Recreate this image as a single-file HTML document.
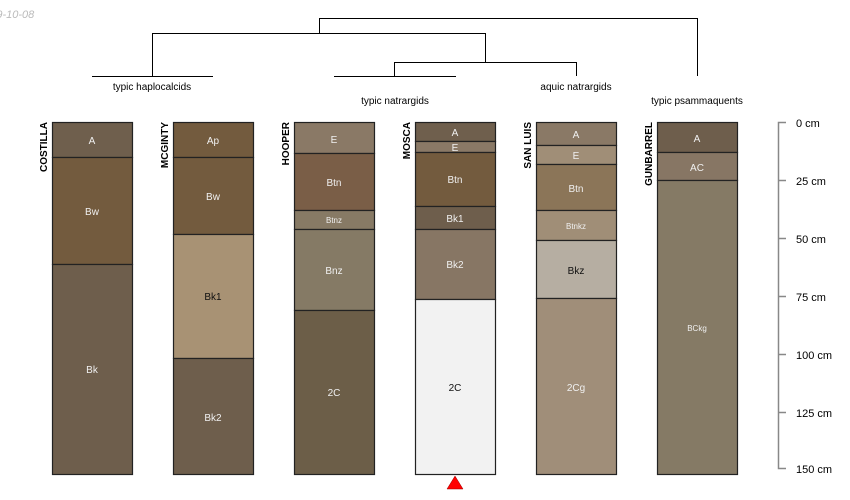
<!DOCTYPE html>
<html><head><meta charset="utf-8"><style>
html,body{margin:0;padding:0;background:#fff}
svg{display:block;font-family:"Liberation Sans",sans-serif}
</style></head><body>
<svg width="850" height="500" viewBox="0 0 850 500" xmlns="http://www.w3.org/2000/svg">
<text x="-22" y="18" font-size="11" font-style="italic" fill="#bbb">2019-10-08</text>
<g stroke="#000" stroke-width="1" fill="none">
<path d="M319.5 33V18.5H697.5V76"/>
<path d="M152.5 76V33.5H485.5V62"/>
<path d="M394.5 76V62.5H576.5V76"/>
<path d="M92 76.5H213M334 76.5H456"/>
</g>
<g font-size="10" text-anchor="middle" fill="#000">
<text x="152" y="90">typic haplocalcids</text>
<text x="395" y="104">typic natrargids</text>
<text x="576" y="90">aquic natrargids</text>
<text x="697" y="104">typic psammaquents</text>
</g>
<g font-size="10" font-weight="bold" text-anchor="end">
<text transform="translate(47,122) rotate(-90)">COSTILLA</text>
<text transform="translate(168,122) rotate(-90)">MCGINTY</text>
<text transform="translate(289,122) rotate(-90)">HOOPER</text>
<text transform="translate(410,122) rotate(-90)">MOSCA</text>
<text transform="translate(531,122) rotate(-90)">SAN LUIS</text>
<text transform="translate(652,122) rotate(-90)">GUNBARREL</text>
</g>
<g stroke="#222" stroke-width="1.2" font-size="10" text-anchor="middle">
<rect x="52.5" y="122.5" width="80" height="35" fill="#6f5f4d"/>
<rect x="52.5" y="157.5" width="80" height="107" fill="#735b3e"/>
<rect x="52.5" y="264.5" width="80" height="210" fill="#6e5e4c"/>
<rect x="173.5" y="122.5" width="80" height="35" fill="#735b3e"/>
<rect x="173.5" y="157.5" width="80" height="77" fill="#735b3e"/>
<rect x="173.5" y="234.5" width="80" height="124" fill="#a89274"/>
<rect x="173.5" y="358.5" width="80" height="116" fill="#6e5e4c"/>
<rect x="294.5" y="122.5" width="80" height="31" fill="#8a7966"/>
<rect x="294.5" y="153.5" width="80" height="57" fill="#7a5e47"/>
<rect x="294.5" y="210.5" width="80" height="19" fill="#877a65"/>
<rect x="294.5" y="229.5" width="80" height="81" fill="#857a65"/>
<rect x="294.5" y="310.5" width="80" height="164" fill="#6c5e48"/>
<rect x="415.5" y="122.5" width="80" height="19" fill="#6f5f4d"/>
<rect x="415.5" y="141.5" width="80" height="11" fill="#8a7966"/>
<rect x="415.5" y="152.5" width="80" height="54" fill="#735b3e"/>
<rect x="415.5" y="206.5" width="80" height="23" fill="#6e5e4c"/>
<rect x="415.5" y="229.5" width="80" height="70" fill="#877664"/>
<rect x="415.5" y="299.5" width="80" height="175" fill="#f2f2f2"/>
<rect x="536.5" y="122.5" width="80" height="23" fill="#8a7966"/>
<rect x="536.5" y="145.5" width="80" height="19" fill="#a08e77"/>
<rect x="536.5" y="164.5" width="80" height="46" fill="#8b7558"/>
<rect x="536.5" y="210.5" width="80" height="30" fill="#a08e77"/>
<rect x="536.5" y="240.5" width="80" height="58" fill="#b6aea2"/>
<rect x="536.5" y="298.5" width="80" height="176" fill="#a08e79"/>
<rect x="657.5" y="122.5" width="80" height="30" fill="#6e5e4c"/>
<rect x="657.5" y="152.5" width="80" height="28" fill="#877664"/>
<rect x="657.5" y="180.5" width="80" height="294" fill="#857a65"/>
</g>
<g font-size="10" text-anchor="middle" fill="#f0f0f0">
<text x="92" y="144">A</text><text x="92" y="215">Bw</text><text x="92" y="373">Bk</text>
<text x="213" y="144">Ap</text><text x="213" y="200">Bw</text><text x="213" y="300" fill="#111">Bk1</text><text x="213" y="421">Bk2</text>
<text x="334" y="143">E</text><text x="334" y="186">Btn</text><text x="334" y="223" font-size="8">Btnz</text><text x="334" y="274">Bnz</text><text x="334" y="396">2C</text>
<text x="455" y="136">A</text><text x="455" y="151">E</text><text x="455" y="183">Btn</text><text x="455" y="222">Bk1</text><text x="455" y="268">Bk2</text><text x="455" y="391" fill="#111">2C</text>
<text x="576" y="138">A</text><text x="576" y="159">E</text><text x="576" y="192">Btn</text><text x="576" y="229" font-size="8">Btnkz</text><text x="576" y="274" fill="#111">Bkz</text><text x="576" y="391">2Cg</text>
<text x="697" y="142">A</text><text x="697" y="171">AC</text><text x="697" y="331" font-size="8">BCkg</text>
</g>
<polygon points="447,489 463,489 455,476" fill="#f00" stroke="#900" stroke-width="0.5"/>
<g stroke="#888" stroke-width="1.5" fill="none">
<path d="M786 122.5H778.5V468.5H786"/>
<path d="M778 180.5H786M778 238.5H786M778 296.5H786M778 354.5H786M778 412.5H786"/>
</g>
<g font-size="11" fill="#000">
<text x="796" y="127">0 cm</text>
<text x="796" y="185">25 cm</text>
<text x="796" y="243">50 cm</text>
<text x="796" y="301">75 cm</text>
<text x="796" y="359">100 cm</text>
<text x="796" y="417">125 cm</text>
<text x="796" y="473">150 cm</text>
</g>
</svg>
</body></html>
